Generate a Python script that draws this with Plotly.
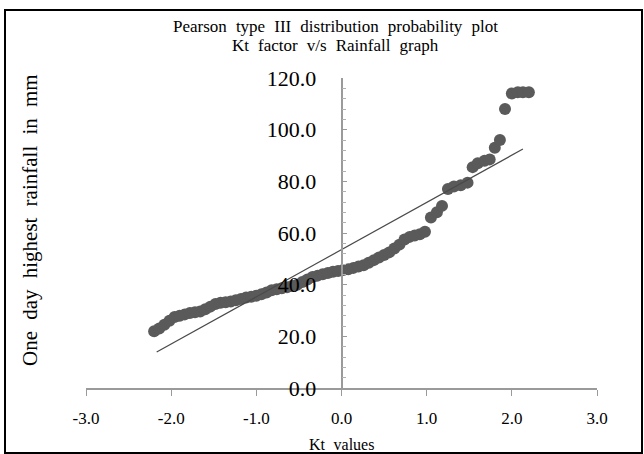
import plotly.graph_objects as go

kt = [-2.20, -2.14, -2.08, -2.02, -1.96, -1.90, -1.84, -1.78, -1.72, -1.66,
      -1.60, -1.54, -1.48, -1.42, -1.36, -1.30, -1.24, -1.18, -1.12, -1.06,
      -1.00, -0.94, -0.88, -0.82, -0.76, -0.70, -0.64, -0.58, -0.52, -0.46,
      -0.40, -0.34, -0.28, -0.22, -0.16, -0.10, -0.04, 0.02, 0.08, 0.14,
      0.20, 0.26, 0.32, 0.38, 0.44, 0.50, 0.56, 0.62, 0.68, 0.74,
      0.80, 0.86, 0.92, 0.98, 1.05, 1.12, 1.18, 1.25, 1.32, 1.40,
      1.48, 1.54, 1.60, 1.68, 1.74, 1.80, 1.86, 1.92, 2.00, 2.07,
      2.13, 2.20]
rainfall = [22.0, 23.0, 24.5, 26.0, 27.5, 28.0, 28.5, 29.0, 29.3, 29.6,
            30.5, 31.5, 32.5, 33.0, 33.2, 33.5, 34.0, 34.5, 35.0, 35.3,
            35.7, 36.3, 37.0, 37.8, 38.2, 38.6, 39.0, 39.5, 40.0, 41.0,
            42.0, 43.0, 43.5, 44.0, 44.5, 45.0, 45.3, 45.7, 46.0, 46.5,
            47.0, 47.5, 48.5, 49.5, 50.5, 51.5, 52.5, 54.0, 55.5, 57.5,
            58.5, 59.0, 59.5, 60.5, 66.0, 68.0, 70.5, 77.0, 78.0, 78.5,
            79.5, 85.5, 87.0, 88.0, 88.5, 93.0, 96.0, 108.0, 114.0, 114.5,
            114.5, 114.5]
fit_x = [-2.17, 2.13]
fit_y = [13.9, 92.5]

x_ticks = [-3, -2, -1, 0, 1, 2, 3]
y_ticks = [0, 20, 40, 60, 80, 100, 120]

title_line1 = "Pearson type III distribution probability plot"
title_line2 = "Kt factor v/s Rainfall graph"
x_title = "Kt values"
y_title = "One day highest rainfall in mm"

W, H = 644, 454
L, R, T, B = 86, 47, 78, 66
pw, ph = W - L - R, H - T - B

def px2paper_x(px):
    return (px - L) / pw

def px2paper_y(py):
    return (H - B - py) / ph

def wide(s, sep=" \u2009\u200a"):
    # the reference uses slightly wide word spacing
    return s.replace(" ", sep)

serif = "Liberation Serif, Times New Roman, serif"

fig = go.Figure()
fig.add_trace(go.Scatter(x=kt, y=rainfall, mode="markers",
                         marker=dict(color="#5a5a5a", size=12, line=dict(width=0)),
                         showlegend=False))
fig.add_trace(go.Scatter(x=fit_x, y=fit_y, mode="lines",
                         line=dict(color="#4a4a4a", width=1.2), showlegend=False))

fig.update_layout(
    width=W, height=H,
    margin=dict(l=L, r=R, t=T, b=B),
    paper_bgcolor="white", plot_bgcolor="white",
    font=dict(family=serif, color="black"),
    xaxis=dict(range=[-3, 3], tickvals=x_ticks,
               ticktext=[f"{v:.1f}" for v in x_ticks],
               showgrid=False, zeroline=False, showline=True,
               linecolor="#9a9a9a", linewidth=1.5,
               ticks="outside", ticklen=6, tickcolor="#9a9a9a",
               tickfont=dict(size=17, family=serif),
               ticklabelstandoff=8),
    yaxis=dict(range=[0, 120], tickvals=y_ticks,
               ticktext=[f"{v:.1f}" for v in y_ticks],
               anchor="free", position=0.5,
               showgrid=False, zeroline=False, showline=True,
               linecolor="#9a9a9a", linewidth=1.5,
               ticks="inside", ticklen=5, tickcolor="#9a9a9a",
               minor=dict(dtick=4, ticks="inside", ticklen=4, tickcolor="#b0b0b0"),
               tickfont=dict(size=22, family=serif),
               ticklabelstandoff=20, layer="above traces"),
)

fig.add_annotation(text=wide(title_line1),
                   xref="paper", yref="paper", x=px2paper_x(335), y=px2paper_y(27),
                   xanchor="center", yanchor="middle", showarrow=False,
                   font=dict(size=17, family=serif))
fig.add_annotation(text=wide(title_line2),
                   xref="paper", yref="paper", x=px2paper_x(335), y=px2paper_y(45),
                   xanchor="center", yanchor="middle", showarrow=False,
                   font=dict(size=17, family=serif))
fig.add_annotation(text=wide(x_title),
                   xref="paper", yref="paper", x=px2paper_x(341), y=px2paper_y(444),
                   xanchor="center", yanchor="middle", showarrow=False,
                   font=dict(size=16, family=serif))
fig.add_annotation(text=wide(y_title), textangle=-90,
                   xref="paper", yref="paper", x=px2paper_x(30), y=px2paper_y(220),
                   xanchor="center", yanchor="middle", showarrow=False,
                   font=dict(size=21, family=serif))
fig.add_shape(type="rect", xref="paper", yref="paper",
              x0=px2paper_x(5), x1=px2paper_x(642), y0=px2paper_y(10), y1=px2paper_y(453),
              line=dict(color="black", width=2), fillcolor="rgba(0,0,0,0)")

fig.write_html("out.html")
